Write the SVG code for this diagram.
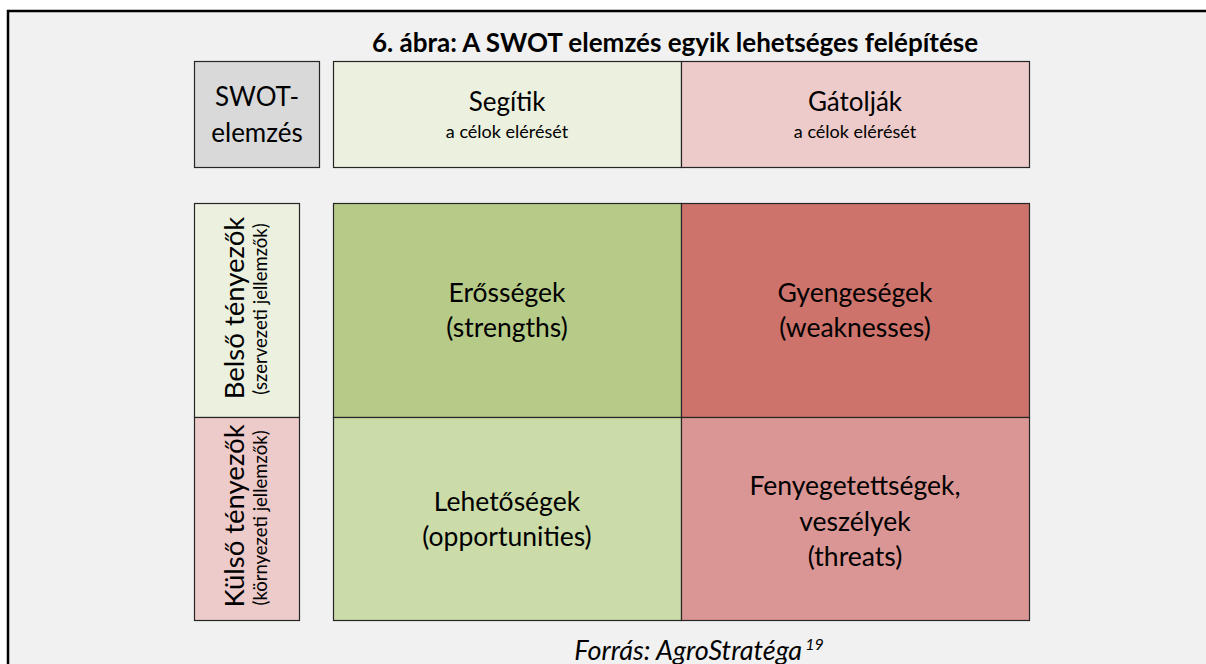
<svg xmlns="http://www.w3.org/2000/svg" width="1206" height="664" viewBox="0 0 1206 664">
<style>
text{font-family:Lato,"Open Sans","Liberation Sans",sans-serif;fill:#000;text-anchor:middle}
.box{stroke:#262626;stroke-width:1.2}
.big{font-size:26px}
.cell{font-size:26.5px}
.vbig{font-size:27.5px}
.small{font-size:18px}
.vsmall{font-size:18.5px}
</style>
<rect x="0" y="0" width="1206" height="664" fill="#ffffff"/>
<rect x="8" y="11" width="1198" height="653" fill="#f1f1f1"/>
<path d="M8 664 V11 H1206" fill="none" stroke="#000" stroke-width="2.5"/>
<text x="675" y="52" style="font-size:26px;font-weight:bold">6. ábra: A SWOT elemzés egyik lehetséges felépítése</text>
<g id="swot">
<rect class="box" x="194.5" y="61.5" width="125" height="106" fill="#d9d9d9"/>
<text class="big" x="257" y="106">SWOT-</text>
<text class="big" x="257" y="142">elemzés</text>
</g>
<g id="segitik">
<rect class="box" x="333.5" y="61.5" width="348" height="106" fill="#ebf0df"/>
<text class="big" x="507" y="111">Segítik</text>
<text class="small" x="507" y="138">a célok elérését</text>
</g>
<g id="gatoljak">
<rect class="box" x="681.5" y="61.5" width="348" height="106" fill="#edcbca"/>
<text class="big" x="855" y="111">Gátolják</text>
<text class="small" x="855" y="138">a célok elérését</text>
</g>
<g id="belso">
<rect class="box" x="194.5" y="203.5" width="105" height="214" fill="#ebf0df"/>
<text class="vbig" transform="translate(244 308) rotate(-90)">Belső tényezők</text>
<text class="vsmall" transform="translate(267 309) rotate(-90)">(szervezeti jellemzők)</text>
</g>
<g id="kulso">
<rect class="box" x="194.5" y="417.5" width="105" height="203" fill="#edcbca"/>
<text class="vbig" transform="translate(244 516) rotate(-90)">Külső tényezők</text>
<text class="vsmall" transform="translate(267 518) rotate(-90)">(környezeti jellemzők)</text>
</g>
<g id="strengths">
<rect class="box" x="333.5" y="203.5" width="348" height="214" fill="#b7cb89"/>
<text class="cell" x="507" y="302">Erősségek</text>
<text class="cell" x="507" y="337">(strengths)</text>
</g>
<g id="weaknesses">
<rect class="box" x="681.5" y="203.5" width="348" height="214" fill="#cd736b"/>
<text class="cell" x="855" y="302">Gyengeségek</text>
<text class="cell" x="855" y="337">(weaknesses)</text>
</g>
<g id="opportunities">
<rect class="box" x="333.5" y="417.5" width="348" height="203" fill="#ccdca9"/>
<text class="cell" x="507" y="511">Lehetőségek</text>
<text class="cell" x="507" y="546">(opportunities)</text>
</g>
<g id="threats">
<rect class="box" x="681.5" y="417.5" width="348" height="203" fill="#da9694"/>
<text class="cell" x="855" y="495">Fenyegetettségek,</text>
<text class="cell" x="855" y="531">veszélyek</text>
<text class="cell" x="855" y="566">(threats)</text>
</g>
<text x="699" y="660" style="font-size:27px;font-style:italic">Forrás: AgroStratéga<tspan dx="3" dy="-10" style="font-size:16px">19</tspan></text>
<g id="connectors"></g>
</svg>
